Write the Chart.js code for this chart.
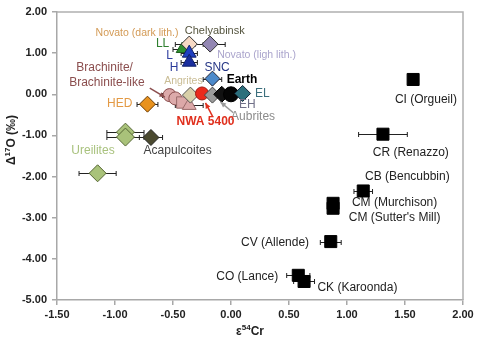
<!DOCTYPE html>
<html><head><meta charset="utf-8">
<script src="https://cdn.jsdelivr.net/npm/chart.js@4/dist/chart.umd.min.js"></script>
<style>html,body{margin:0;padding:0;background:#fff}canvas{display:block}</style>
</head><body>
<canvas id="c" width="480" height="343"></canvas>
<script>
// ---------- DATA ----------
const sampleNames = ['LL','Novato (dark lith.)','Chelyabinsk','L','H','SNC',
  'Brachinite 1','Brachinite 2','Brachinite-like 1','Brachinite-like 2','Angrites',
  'NWA 5400','Aubrites','EH','Earth','EL','HED',
  'Ureilites 1','Ureilites 2','Ureilites 3','Acapulcoites',
  'CI (Orgueil)','CR (Renazzo)','CB (Bencubbin)','CM (Murchison)',"CM (Sutter's Mill)",
  'CV (Allende)','CO (Lance)','CK (Karoonda)'];
const eps54Cr = [-0.42,-0.36,-0.18,-0.36,-0.36,-0.16,
  -0.53,-0.48,-0.42,-0.36,-0.35,
  -0.25,-0.16,-0.08,0.00,0.10,-0.72,
  -0.91,-0.91,-1.15,-0.69,
  1.57,1.31,1.14,0.88,0.88,
  0.86,0.58,0.63];
const delta17O = [1.10,1.22,1.22,1.00,0.78,0.38,
  -0.02,-0.10,-0.20,-0.27,-0.02,
  0.02,-0.02,0.00,0.00,0.02,-0.24,
  -0.92,-1.04,-1.92,-1.05,
  0.36,-0.97,-2.35,-2.65,-2.77,
  -3.58,-4.40,-4.55];
const eps54CrErr = [0.08,0.12,0.13,0.07,0.07,0.08,
  0.06,0,0,0.12,0,
  0,0,0,0,0,0.09,
  0.16,0.16,0.16,0.10,
  0.03,0.21,0.08,0.03,0.03,
  0.09,0.10,0.09];
const xTickValues = [-1.5,-1.0,-0.5,0.0,0.5,1.0,1.5,2.0];
const yTickValues = [-5,-4,-3,-2,-1,0,1,2];

// ---------- STYLES ----------
const FONT = "'Liberation Sans', Arial, sans-serif";
const markerStyles = {
  'LL': ['triangle','#2f8f2f','#1f5f1f',7],
  'Novato (dark lith.)': ['rectRot','#f6d9c4','#333',8],
  'Chelyabinsk': ['rectRot','#9387b3','#333',8],
  'L': ['triangle','#1f3fc0','#10206a',8],
  'H': ['triangle','#1a2e9e','#10206a',8],
  'SNC': ['rectRot','#4d8acb','#223',7.5],
  'Brachinite 1': ['circle','#dcaaaa','#8b4e4e',6.5],
  'Brachinite 2': ['circle','#dcaaaa','#8b4e4e',6.5],
  'Brachinite-like 1': ['rect','#dca8a8','#9a6a6a',8],
  'Brachinite-like 2': ['triangle','#dca8a8','#9a6a6a',8],
  'Angrites': ['rectRot','#d8cfa8','#555',8],
  'NWA 5400': ['circle','#ea2a1c','#a01a10',6.5],
  'Aubrites': ['rectRot','#9a9a9a','#444',8],
  'EH': ['rectRot','#111111','#000',8],
  'Earth': ['circle','#050505','#000',7.5],
  'EL': ['rectRot','#2c6f7c','#123',8],
  'HED': ['rectRot','#e8921e','#6a3a00',8],
  'Ureilites 1': ['rectRot','#a9c27a','#556633',9],
  'Ureilites 2': ['rectRot','#a9c27a','#556633',9],
  'Ureilites 3': ['rectRot','#a9c27a','#556633',8.5],
  'Acapulcoites': ['rectRot','#4b4a30','#222',8],
  'default': ['rect','#000000','#000',8.5]
};

// text annotations (positions in data units) and arrows
const annotations = [
  ['Novato (dark lith.)',-0.81,1.49,'#d39a55',10.5,false],
  ['Chelyabinsk',-0.14,1.54,'#55553f',11,false],
  ['LL',-0.59,1.22,'#2f7f2f',12,false],
  ['L',-0.53,0.95,'#3040a0',12,false],
  ['H',-0.49,0.64,'#2a3a9a',12,false],
  ['Novato (ligh lith.)',0.22,0.95,'#aaa4cc',10.5,false],
  ['SNC',-0.12,0.64,'#253585',12,false],
  ['Angrites',-0.41,0.32,'#c9bc94',10.5,false],
  ['Earth',0.095,0.35,'#000',12,true],
  ['Brachinite/',-1.09,0.64,'#8b4e4e',12,false],
  ['Brachinite-like',-1.07,0.27,'#8b4e4e',12,false],
  ['HED',-0.96,-0.23,'#e39a45',12,false],
  ['EL',0.27,0.01,'#3c6f7d',12,false],
  ['EH',0.14,-0.26,'#707088',12,false],
  ['Aubrites',0.19,-0.55,'#8c8c8c',12,false],
  ['NWA 5400',-0.22,-0.67,'#e0301e',12,true],
  ['Acapulcoites',-0.46,-1.38,'#444',12,false],
  ['Ureilites',-1.19,-1.38,'#a9c27e',12,false],
  ['CI (Orgueil)',1.68,-0.14,'#222',12,false],
  ['CR (Renazzo)',1.55,-1.43,'#222',12,false],
  ['CB (Bencubbin)',1.52,-2.01,'#222',12,false],
  ['CM (Murchison)',1.41,-2.64,'#222',12,false],
  ["CM (Sutter's Mill)",1.41,-3.00,'#222',12,false],
  ['CV (Allende)',0.38,-3.61,'#222',12,false],
  ['CO (Lance)',0.14,-4.44,'#222',12,false],
  ['CK (Karoonda)',1.09,-4.71,'#222',12,false]
];
const arrows = [
  [-0.70,0.15,-0.57,-0.07,'#8b4e4e'],
  [-0.16,-0.53,-0.22,-0.21,'#e0301e'],
  [0.02,-0.45,-0.09,-0.19,'#9a9a9a']
];

const datasets = sampleNames.map((n,i)=>{
  const s = markerStyles[n] || markerStyles['default'];
  return {
    label:n,
    data:[{x:eps54Cr[i], y:delta17O[i]}],
    pointStyle:s[0], backgroundColor:s[1], borderColor:s[2], pointRadius:s[3],
    pointBorderWidth:1, order:-i
  };
});

const extras = {
  id:'extras',
  beforeDatasetsDraw(chart){
    const ctx=chart.ctx, xs=chart.scales.x, ys=chart.scales.y;
    ctx.save(); ctx.strokeStyle='#222'; ctx.lineWidth=1;
    sampleNames.forEach((n,i)=>{
      const e=eps54CrErr[i]; if(!e) return;
      const y=Math.round(ys.getPixelForValue(delta17O[i]))+0.5;
      const x1=xs.getPixelForValue(eps54Cr[i]-e), x2=xs.getPixelForValue(eps54Cr[i]+e);
      ctx.beginPath(); ctx.moveTo(x1,y); ctx.lineTo(x2,y);
      ctx.moveTo(x1,y-2.5); ctx.lineTo(x1,y+2.5);
      ctx.moveTo(x2,y-2.5); ctx.lineTo(x2,y+2.5); ctx.stroke();
    });
    ctx.restore();
  },
  afterDraw(chart){
    const ctx=chart.ctx, xs=chart.scales.x, ys=chart.scales.y, a=chart.chartArea;
    ctx.save();
    ctx.strokeStyle='#b0b0b0'; ctx.lineWidth=1.5;
    ctx.beginPath(); ctx.moveTo(a.left,a.top); ctx.lineTo(a.right,a.top); ctx.lineTo(a.right,a.bottom); ctx.stroke();
    arrows.forEach(([x1,y1,x2,y2,c])=>{
      const px1=xs.getPixelForValue(x1), py1=ys.getPixelForValue(y1);
      const px2=xs.getPixelForValue(x2), py2=ys.getPixelForValue(y2);
      ctx.strokeStyle=c; ctx.fillStyle=c; ctx.lineWidth=1.5;
      ctx.beginPath(); ctx.moveTo(px1,py1); ctx.lineTo(px2,py2); ctx.stroke();
      const ang=Math.atan2(py2-py1,px2-px1), L=6;
      ctx.beginPath(); ctx.moveTo(px2,py2);
      ctx.lineTo(px2-L*Math.cos(ang-0.45),py2-L*Math.sin(ang-0.45));
      ctx.lineTo(px2-L*Math.cos(ang+0.45),py2-L*Math.sin(ang+0.45));
      ctx.closePath(); ctx.fill();
    });
    ctx.textAlign='center'; ctx.textBaseline='middle';
    annotations.forEach(([t,x,y,c,sz,b])=>{
      ctx.font=(b?'bold ':'')+sz+'px '+FONT; ctx.fillStyle=c;
      ctx.fillText(t,xs.getPixelForValue(x),ys.getPixelForValue(y));
    });
    function supText(parts, cx, cy, rot){
      ctx.save(); ctx.translate(cx,cy); if(rot) ctx.rotate(-Math.PI/2);
      let w=0; parts.forEach(p=>{ctx.font=p[1]; w+=ctx.measureText(p[0]).width;});
      let x=-w/2; ctx.textAlign='left'; ctx.textBaseline='middle'; ctx.fillStyle='#222';
      parts.forEach(p=>{ctx.font=p[1]; ctx.fillText(p[0],x,p[2]); x+=ctx.measureText(p[0]).width;});
      ctx.restore();
    }
    supText([['\u0394','bold 12px '+FONT,0],['17','bold 8px '+FONT,-4],['O (\u2030)','bold 12px '+FONT,0]],12,140,true);
    supText([['\u03b5','bold 12px '+FONT,0],['54','bold 8px '+FONT,-4],['Cr','bold 12px '+FONT,0]],250,332,false);
    ctx.restore();
  }
};

new Chart(document.getElementById('c'),{
  type:'scatter',
  data:{datasets},
  options:{
    responsive:false, animation:false, devicePixelRatio:1,
    layout:{padding:{top:12,right:17,left:0,bottom:0}},
    plugins:{legend:{display:false},tooltip:{enabled:false}},
    scales:{
      x:{type:'linear',min:-1.5,max:2,
        afterBuildTicks:s=>{s.ticks=xTickValues.map(v=>({value:v}));},
        afterFit:s=>{s.height=43;},
        ticks:{callback:v=>v.toFixed(2),font:{family:FONT,size:11,weight:'bold'},color:'#222',padding:3,maxRotation:0},
        grid:{drawOnChartArea:false,tickLength:5,color:'#a8a8a8',lineWidth:1.5},
        border:{color:'#a8a8a8',width:1.5}},
      y:{type:'linear',min:-5,max:2,
        afterBuildTicks:s=>{s.ticks=yTickValues.map(v=>({value:v}));},
        afterFit:s=>{s.width=57;},
        ticks:{callback:v=>v.toFixed(2),font:{family:FONT,size:11,weight:'bold'},color:'#222',padding:5},
        grid:{drawOnChartArea:false,tickLength:5,color:'#a8a8a8',lineWidth:1.5},
        border:{color:'#a8a8a8',width:1.5}}
    }
  },
  plugins:[extras]
});
</script>
</body></html>
